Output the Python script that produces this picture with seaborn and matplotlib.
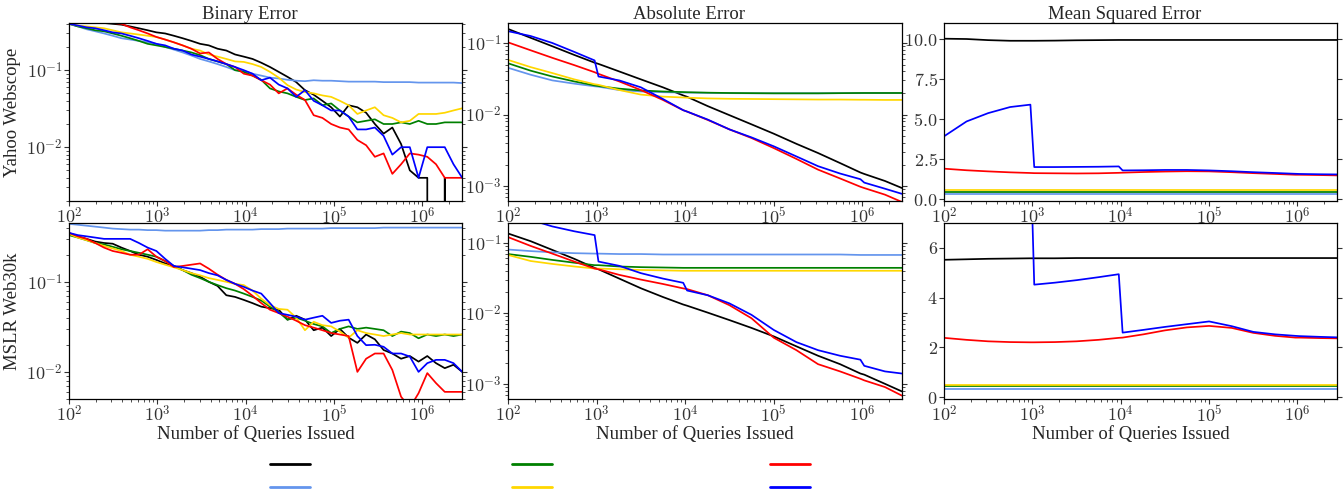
import numpy as np
import pandas as pd
import matplotlib
matplotlib.use("Agg")
import matplotlib.pyplot as plt
from matplotlib.ticker import FuncFormatter, LogLocator, NullFormatter, MultipleLocator
from matplotlib.lines import Line2D
import seaborn as sns

# ---------------- data ----------------
colors = ["black", "cornflowerblue", "green", "gold", "red", "blue"]
legend_labels = ["", "", "", "", "", ""]  # legend labels are blank in the reference

x_bin = np.round(np.logspace(2, 6.45, 46))
x_smooth = [100, 180, 316, 560, 950, 1050, 1800, 3160, 5600, 9500, 10500, 18000,
            31600, 56000, 100000, 180000, 316000, 560000, 950000, 1050000, 1800000, 2800000]

# Binary error, Yahoo Webscope
yahoo_bin = {
    "black": [0.42,0.42,0.42,0.42,0.41,0.40,0.39,0.37,0.35,0.33,
              0.31,0.30,0.28,0.26,0.24,0.22,0.21,0.19,0.18,0.16,
              0.15,0.14,0.125,0.11,0.095,0.082,0.07,0.055,0.048,0.04,
              0.033,0.025,0.035,0.033,0.028,0.02,0.015,0.018,0.011,0.005,
              0.004,0.004,0.0,0.004,0.0,0.0],
    "cornflowerblue": [0.40,0.37,0.34,0.32,0.30,0.28,0.26,0.25,0.24,0.23,
              0.22,0.20,0.185,0.17,0.155,0.14,0.13,0.12,0.11,0.10,
              0.098,0.09,0.085,0.08,0.078,0.075,0.073,0.072,0.074,0.073,
              0.073,0.072,0.071,0.071,0.071,0.071,0.07,0.07,0.07,0.07,
              0.069,0.069,0.069,0.069,0.069,0.068],
    "green": [0.40,0.37,0.35,0.33,0.32,0.30,0.28,0.26,0.24,0.22,
              0.21,0.20,0.19,0.18,0.17,0.157,0.14,0.13,0.12,0.10,
              0.095,0.085,0.075,0.058,0.053,0.05,0.045,0.041,0.043,0.035,
              0.037,0.03,0.025,0.021,0.022,0.023,0.02,0.02,0.021,0.02,
              0.022,0.02,0.02,0.021,0.021,0.021],
    "gold": [0.40,0.38,0.37,0.36,0.35,0.33,0.31,0.30,0.29,0.28,
              0.27,0.25,0.23,0.21,0.19,0.18,0.16,0.15,0.14,0.13,
              0.128,0.12,0.11,0.095,0.08,0.064,0.056,0.052,0.05,0.047,
              0.045,0.04,0.035,0.027,0.03,0.033,0.026,0.024,0.021,0.022,
              0.027,0.027,0.027,0.028,0.03,0.032],
    "red": [0.42,0.42,0.42,0.42,0.42,0.41,0.40,0.36,0.33,0.30,
              0.27,0.25,0.23,0.21,0.19,0.165,0.17,0.14,0.12,0.11,
              0.09,0.085,0.074,0.065,0.05,0.058,0.048,0.041,0.026,0.024,
              0.02,0.018,0.017,0.0124,0.0106,0.0075,0.0083,0.0045,0.006,0.0083,
              0.008,0.0075,0.006,0.004,0.004,0.004],
    "blue": [0.40,0.38,0.36,0.35,0.33,0.31,0.30,0.28,0.26,0.24,
              0.22,0.21,0.19,0.18,0.16,0.15,0.14,0.13,0.12,0.11,
              0.10,0.09,0.074,0.08,0.065,0.058,0.045,0.055,0.04,0.035,
              0.03,0.03,0.025,0.017,0.017,0.018,0.014,0.008,0.01,0.01,
              0.004,0.01,0.01,0.01,0.006,0.004],
}

# Binary error, MSLR Web30k
mslr_bin = {
    "black": [0.34,0.32,0.30,0.28,0.27,0.265,0.24,0.22,0.20,0.19,
              0.175,0.16,0.15,0.135,0.125,0.114,0.10,0.09,0.071,0.068,
              0.063,0.058,0.053,0.051,0.049,0.038,0.042,0.038,0.029,0.031,
              0.025,0.03,0.024,0.021,0.026,0.023,0.0175,0.016,0.014,0.015,
              0.013,0.015,0.0125,0.011,0.012,0.010],
    "cornflowerblue": [0.44,0.43,0.42,0.41,0.40,0.39,0.385,0.38,0.38,0.375,
              0.375,0.37,0.37,0.37,0.37,0.37,0.375,0.375,0.38,0.38,
              0.38,0.38,0.385,0.385,0.385,0.39,0.39,0.39,0.39,0.39,
              0.395,0.395,0.395,0.395,0.395,0.395,0.40,0.40,0.40,0.40,
              0.40,0.40,0.40,0.40,0.40,0.40],
    "green": [0.33,0.31,0.29,0.27,0.26,0.245,0.23,0.22,0.21,0.20,
              0.19,0.17,0.15,0.135,0.12,0.11,0.10,0.092,0.085,0.08,
              0.074,0.068,0.062,0.053,0.046,0.038,0.04,0.037,0.034,0.032,
              0.027,0.03,0.032,0.03,0.031,0.03,0.029,0.025,0.028,0.027,
              0.0236,0.026,0.025,0.026,0.025,0.026],
    "gold": [0.34,0.31,0.29,0.27,0.25,0.235,0.22,0.20,0.19,0.18,
              0.166,0.155,0.145,0.135,0.125,0.118,0.11,0.105,0.10,0.095,
              0.092,0.08,0.065,0.055,0.05,0.049,0.04,0.029,0.036,0.033,
              0.032,0.028,0.024,0.029,0.027,0.026,0.025,0.026,0.027,0.026,
              0.026,0.026,0.026,0.026,0.026,0.026],
    "red": [0.35,0.32,0.30,0.27,0.24,0.22,0.21,0.20,0.20,0.23,
              0.19,0.17,0.146,0.15,0.155,0.16,0.14,0.12,0.105,0.095,
              0.083,0.07,0.058,0.049,0.045,0.041,0.037,0.033,0.031,0.029,
              0.027,0.026,0.025,0.01,0.014,0.016,0.016,0.0105,0.0053,0.004,
              0.0058,0.0097,0.0075,0.006,0.006,0.006],
    "blue": [0.35,0.33,0.32,0.31,0.30,0.30,0.30,0.30,0.27,0.24,
              0.22,0.18,0.15,0.145,0.14,0.135,0.125,0.118,0.105,0.095,
              0.088,0.08,0.074,0.058,0.045,0.043,0.041,0.038,0.04,0.042,
              0.035,0.037,0.038,0.025,0.0198,0.02,0.019,0.016,0.016,0.0148,
              0.010,0.0125,0.0136,0.0136,0.0125,0.010],
}

# Absolute error, Yahoo Webscope
yahoo_abs = {
    "black": [0.157,0.118,0.09,0.068,0.053,0.051,0.04,0.031,0.024,0.0185,0.0177,
              0.0131,0.0098,0.0073,0.0054,0.0039,0.0029,0.0021,0.00155,0.00148,0.00118,0.00094],
    "cornflowerblue": [0.045,0.036,0.03,0.027,0.0248,0.0245,0.022,0.021,0.0205,0.0203,0.0203,
              0.0201,0.0199,0.0198,0.0198,0.0198,0.0198,0.0199,0.0199,0.02,0.02,0.02],
    "green": [0.052,0.041,0.034,0.029,0.0255,0.025,0.023,0.0217,0.021,0.0206,0.0205,
              0.0202,0.020,0.0199,0.0198,0.0198,0.0198,0.0199,0.02,0.02,0.02,0.02],
    "gold": [0.058,0.046,0.038,0.031,0.0265,0.026,0.022,0.019,0.0178,0.0173,0.0172,
              0.0168,0.0166,0.0165,0.0164,0.0163,0.0162,0.0162,0.0161,0.0161,0.016,0.016],
    "red": [0.102,0.079,0.062,0.049,0.039,0.037,0.029,0.022,0.016,0.0115,0.011,
              0.0084,0.0062,0.0047,0.0034,0.0024,0.0017,0.00128,0.00098,0.00094,0.00076,0.0006],
    "blue": [0.146,0.125,0.10,0.075,0.057,0.034,0.03,0.024,0.0165,0.0115,0.011,
              0.0085,0.0062,0.0048,0.0036,0.0026,0.0019,0.0015,0.00125,0.00112,0.00092,0.00078],
}

# Absolute error, MSLR Web30k
mslr_abs = {
    "black": [0.135,0.105,0.079,0.059,0.044,0.042,0.031,0.0226,0.017,0.0133,0.0128,
              0.0102,0.008,0.0062,0.0047,0.0034,0.0025,0.0019,0.0014,0.00135,0.001,0.00078],
    "cornflowerblue": [0.08,0.076,0.073,0.071,0.07,0.07,0.069,0.069,0.068,0.068,0.068,
              0.068,0.068,0.068,0.068,0.068,0.068,0.068,0.067,0.067,0.067,0.067],
    "green": [0.069,0.063,0.057,0.052,0.048,0.048,0.046,0.045,0.0445,0.044,0.044,
              0.044,0.044,0.044,0.044,0.044,0.044,0.044,0.044,0.044,0.044,0.044],
    "gold": [0.067,0.055,0.05,0.046,0.043,0.043,0.042,0.041,0.0405,0.040,0.040,
              0.040,0.040,0.040,0.040,0.040,0.040,0.040,0.040,0.040,0.040,0.040],
    "red": [0.12,0.09,0.07,0.054,0.043,0.042,0.035,0.03,0.026,0.0225,0.022,
              0.018,0.013,0.0085,0.0045,0.003,0.0019,0.0015,0.00118,0.00112,0.0009,0.00068],
    "blue": [0.25,0.21,0.17,0.145,0.128,0.054,0.047,0.037,0.031,0.027,0.021,
              0.018,0.0138,0.0095,0.0058,0.0039,0.003,0.0025,0.0022,0.0018,0.0015,0.0014],
}

# Mean squared error, Yahoo Webscope
yahoo_mse = {
    "black": [10.02,10.0,9.93,9.89,9.89,9.89,9.9,9.92,9.93,9.94,9.94,
              9.94,9.94,9.94,9.94,9.94,9.94,9.94,9.94,9.94,9.94,9.94],
    "cornflowerblue": [0.31]*22,
    "green": [0.42]*22,
    "gold": [0.54]*22,
    "red": [1.9,1.8,1.73,1.67,1.63,1.62,1.61,1.6,1.61,1.64,1.65,
            1.69,1.72,1.74,1.73,1.68,1.62,1.57,1.52,1.52,1.5,1.48],
    "blue": [3.92,4.85,5.37,5.75,5.9,2.0,2.0,2.01,2.02,2.04,1.79,
             1.8,1.82,1.82,1.79,1.74,1.68,1.63,1.58,1.57,1.55,1.54],
}

# Mean squared error, MSLR Web30k
mslr_mse = {
    "black": [5.52,5.54,5.56,5.57,5.58,5.58,5.58,5.59,5.59,5.59,5.59,
              5.59,5.59,5.59,5.59,5.59,5.59,5.59,5.59,5.59,5.59,5.59],
    "cornflowerblue": [0.33]*22,
    "green": [0.45]*22,
    "gold": [0.50]*22,
    "red": [2.38,2.3,2.24,2.21,2.2,2.2,2.21,2.24,2.3,2.38,2.39,
            2.52,2.68,2.8,2.86,2.78,2.58,2.46,2.39,2.39,2.37,2.36],
    "blue": [12.0,11.5,11.0,10.5,10.0,4.52,4.6,4.7,4.82,4.94,2.59,
             2.7,2.82,2.93,3.04,2.85,2.62,2.52,2.46,2.45,2.42,2.4],
}

col_titles = ["Binary Error", "Absolute Error", "Mean Squared Error"]
row_labels = ["Yahoo Webscope", "MSLR Web30k"]
xlabel = "Number of Queries Issued"

panels = [[(x_bin, yahoo_bin), (x_smooth, yahoo_abs), (x_smooth, yahoo_mse)],
          [(x_bin, mslr_bin), (x_smooth, mslr_abs), (x_smooth, mslr_mse)]]
ylims = [[(0.002, 0.41), (6.2e-4, 0.19), (-0.12, 11.0)],
         [(0.005, 0.45), (6.1e-4, 0.19), (-0.08, 7.0)]]
xlim = (100, 2.8e6)

# ---------------- style ----------------
sns.set_theme(style="ticks")
plt.rcParams["font.family"] = ["Liberation Serif", "DejaVu Serif"]
plt.rcParams["mathtext.fontset"] = "cm"
plt.rcParams["axes.edgecolor"] = "black"
plt.rcParams["axes.linewidth"] = 0.9

W, H = 1343, 491
fig = plt.figure(figsize=(W / 100, H / 100), dpi=100)
col_left = [69, 508, 944]
col_w = [393, 394, 393]
row_top = [23, 223]
row_h = [178, 176]

def mathfmt_log(v, pos):
    if v <= 0:
        return ""
    e = int(round(np.log10(v)))
    return r"$10^{%d}$" % e

for r in range(2):
    for c in range(3):
        l, w = col_left[c], col_w[c]
        t, h = row_top[r], row_h[r]
        ax = fig.add_axes([l / W, 1 - (t + h) / H, w / W, h / H])
        xs, data = panels[r][c]
        for col in colors:
            sns.lineplot(x=xs, y=data[col], ax=ax, color=col, linewidth=1.25,
                         estimator=None, sort=False)
        ax.set_xscale("log")
        ax.xaxis.set_major_formatter(FuncFormatter(mathfmt_log))
        if c < 2:
            ax.set_yscale("log")
            ax.yaxis.set_major_locator(LogLocator(base=10, numticks=10))
            ax.yaxis.set_major_formatter(FuncFormatter(mathfmt_log))
            ax.yaxis.set_minor_formatter(NullFormatter())
        else:
            if r == 0:
                ax.yaxis.set_major_locator(MultipleLocator(2.5))
                ax.yaxis.set_major_formatter(FuncFormatter(lambda v, p: r"$%.1f$" % v))
            else:
                ax.yaxis.set_major_locator(MultipleLocator(2))
                ax.yaxis.set_major_formatter(FuncFormatter(lambda v, p: r"$%d$" % round(v)))
        ax.set_xlim(*xlim)
        ax.set_ylim(*ylims[r][c])
        ax.tick_params(which="both", direction="out", left=True, right=True,
                       top=False, bottom=True, labelsize=13, labelcolor="#333333",
                       color="#333333")
        ax.tick_params(which="major", length=3.5, width=0.8)
        ax.tick_params(which="minor", length=2, width=0.6)
        ax.tick_params(axis="x", pad=1)
        ax.tick_params(axis="y", pad=1)
        for s in ax.spines.values():
            s.set_visible(True)
            s.set_linewidth(0.9)
        if r == 0:
            ax.set_title(col_titles[c], fontsize=13.5, pad=3, x=0.5 - 16 / w)
        if c == 0:
            ax.set_ylabel(row_labels[r], fontsize=13.5, labelpad=4)
        else:
            ax.set_ylabel("")
        if r == 1:
            ax.set_xlabel(xlabel, fontsize=13.5, labelpad=0, x=0.5 - 10 / w)
        else:
            ax.set_xlabel("")

handles = [Line2D([0], [0], color=col, linewidth=2) for col in colors]
legend_x = [270, 512, 770]
for i in range(3):
    fig.legend(handles[2 * i:2 * i + 2], legend_labels[2 * i:2 * i + 2], ncol=1,
               loc="upper left", bbox_to_anchor=(legend_x[i] / W, 1 - 457 / H),
               frameon=False, handlelength=2.2, handletextpad=0,
               borderpad=0, borderaxespad=0, labelspacing=0.35, fontsize=13)

fig.savefig("out.png", dpi=100)
